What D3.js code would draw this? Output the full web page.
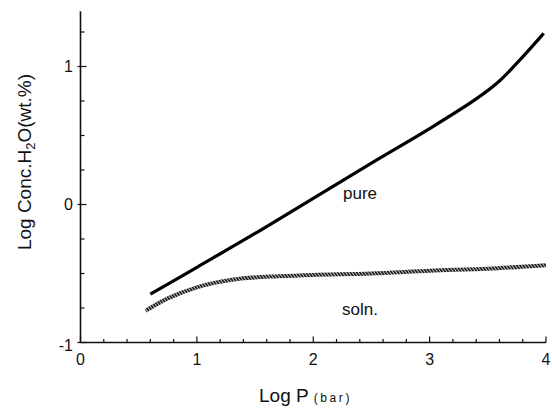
<!DOCTYPE html>
<html>
<head>
<meta charset="utf-8">
<script src="https://cdn.jsdelivr.net/npm/d3@7"></script>
<style>
  html, body { margin: 0; padding: 0; background: #fff; }
  svg { display: block; font-family: "Liberation Sans", Arial, Helvetica, sans-serif; }
</style>
</head>
<body>
<svg id="chart" width="552" height="408"></svg>
<script>
// Water solubility vs. pressure: pure water and solution
const logP_pure = [0.6, 1.0, 1.5, 2.0, 2.5, 3.0, 3.4, 3.6, 3.8, 3.98];
const conc_pure = [-0.65, -0.455, -0.21, 0.045, 0.30, 0.55, 0.765, 0.895, 1.07, 1.24];

const logP_soln = [0.56, 0.75, 1.0, 1.2, 1.4, 1.7, 2.0, 2.5, 3.0, 3.5, 4.0];
const conc_soln = [-0.77, -0.68, -0.60, -0.56, -0.535, -0.52, -0.51, -0.50, -0.48, -0.465, -0.44];

const xTickLabels = [0, 1, 2, 3, 4];
const yTickLabels = [-1, 0, 1];

const svg = d3.select("#chart");

const x = d3.scaleLinear().domain([0, 4]).range([80.5, 546]);
const y = d3.scaleLinear().domain([-1, 1.4]).range([342.5, 11.3]);

// hatched stroke used for the solution curve
const defs = svg.append("defs");
const pat = defs.append("pattern")
  .attr("id", "hatch")
  .attr("patternUnits", "userSpaceOnUse")
  .attr("width", 2.6).attr("height", 2.6)
  .attr("patternTransform", "rotate(-35)");
pat.append("rect").attr("width", 2.6).attr("height", 2.6).attr("fill", "#c8c8c8");
pat.append("rect").attr("width", 1.5).attr("height", 2.6).attr("fill", "#0a0a0a");

// axes lines
const axisColor = "#111";
svg.append("line")
  .attr("x1", x(0)).attr("x2", x(0))
  .attr("y1", y(1.4)).attr("y2", y(-1))
  .attr("stroke", axisColor).attr("stroke-width", 1.6);
svg.append("line")
  .attr("x1", x(0)).attr("x2", x(4))
  .attr("y1", y(-1)).attr("y2", y(-1))
  .attr("stroke", axisColor).attr("stroke-width", 1.6);

// x ticks: minor every 0.2, major every 1 (pointing inward)
const xMinor = d3.range(0, 4.0001, 0.2);
svg.append("g").selectAll("line").data(xMinor).join("line")
  .attr("x1", d => x(d)).attr("x2", d => x(d))
  .attr("y1", y(-1))
  .attr("y2", d => y(-1) - (Math.abs(d - Math.round(d)) < 1e-6 ? 6 : 3.5))
  .attr("stroke", axisColor).attr("stroke-width", 1.2);

// y ticks: minor every 0.25, major every 1
const yMinor = d3.range(-1, 1.30001, 0.25);
svg.append("g").selectAll("line").data(yMinor).join("line")
  .attr("x1", d => x(0) - (Math.abs(d - Math.round(d)) < 1e-6 ? 3 : 0))
  .attr("x2", d => x(0) + (Math.abs(d - Math.round(d)) < 1e-6 ? 6 : 4))
  .attr("y1", d => y(d)).attr("y2", d => y(d))
  .attr("stroke", axisColor).attr("stroke-width", 1.2);

// tick labels
svg.append("g").selectAll("text").data(xTickLabels).join("text")
  .attr("x", d => x(d)).attr("y", 365)
  .attr("text-anchor", "middle")
  .attr("font-size", 16).attr("fill", "#111")
  .text(d => d);

svg.append("g").selectAll("text").data(yTickLabels).join("text")
  .attr("x", 73).attr("y", d => y(d) + (d === -1 ? 2.5 : 0))
  .attr("dy", "0.36em")
  .attr("text-anchor", "end")
  .attr("font-size", 16).attr("fill", "#111")
  .text(d => d);

// axis titles
const xt = svg.append("text")
  .attr("x", 259).attr("y", 402)
  .attr("fill", "#111");
xt.append("tspan").attr("font-size", 19).text("Log P");
xt.append("tspan").attr("font-size", 12).attr("letter-spacing", 2.6).attr("dx", 5).text("(bar)");

const yt = svg.append("text")
  .attr("transform", `translate(31, ${162}) rotate(-90)`)
  .attr("text-anchor", "middle")
  .attr("font-size", 19).attr("fill", "#111");
yt.append("tspan").text("Log Conc.H");
yt.append("tspan").attr("font-size", 13).attr("dy", 4).text("2");
yt.append("tspan").attr("dy", -4).text("O(wt.%)");

// curves
const line = d3.line()
  .x(d => x(d[0])).y(d => y(d[1]))
  .curve(d3.curveCatmullRom.alpha(0.5));

svg.append("path")
  .datum(d3.zip(logP_pure, conc_pure))
  .attr("d", line)
  .attr("fill", "none")
  .attr("stroke", "#000")
  .attr("stroke-width", 3.2)
  .attr("stroke-linecap", "butt");

svg.append("path")
  .datum(d3.zip(logP_soln, conc_soln))
  .attr("d", line)
  .attr("fill", "none")
  .attr("stroke", "url(#hatch)")
  .attr("stroke-width", 4);

// curve labels
svg.append("text").attr("x", 343).attr("y", 199)
  .attr("font-size", 17).attr("fill", "#111").text("pure");
svg.append("text").attr("x", 342).attr("y", 315)
  .attr("font-size", 17).attr("fill", "#111").text("soln.");
</script>
</body>
</html>
